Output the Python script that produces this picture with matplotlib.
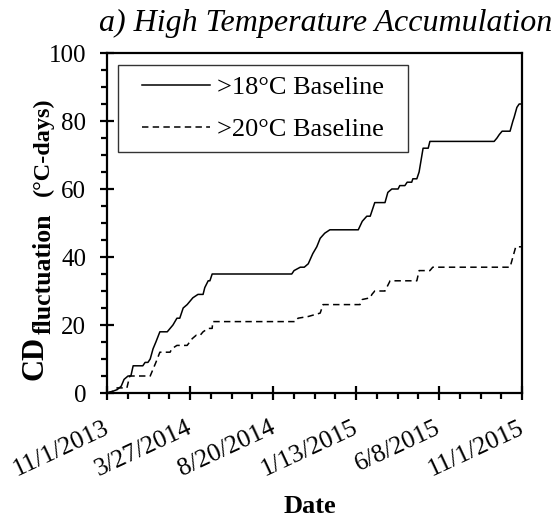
import pandas as pd
import matplotlib
matplotlib.use("Agg")
import matplotlib.pyplot as plt
import matplotlib.dates as mdates
from matplotlib.ticker import MultipleLocator, FixedLocator
from matplotlib.lines import Line2D
from matplotlib.legend_handler import HandlerLine2D
from matplotlib.transforms import ScaledTranslation

plt.rcParams["font.family"] = "Liberation Serif"

# Cumulative degree-days, days counted from 11/1/2013
start = pd.Timestamp("2013-11-01")

days_18 = [0, 10, 18, 25, 30, 37, 42, 46, 63, 67, 72, 76, 81, 86, 93, 106, 111, 116,
           123, 128, 134, 141, 146, 151, 160, 169, 172, 178, 181, 185, 325, 329, 340,
           347, 354, 362, 369, 375, 383, 392, 442, 449, 457, 463, 466, 471, 489, 494,
           501, 512, 515, 524, 528, 536, 538, 545, 549, 554, 556, 565, 568, 681, 686,
           690, 695, 709, 714, 716, 721, 725, 730]
cd_18 = [0, 0.5, 1, 2, 4, 5, 5, 8, 8, 9, 9, 10, 13, 15, 18, 18, 19, 20,
         22, 22, 25, 26, 27, 28, 29, 29, 31, 33, 33, 35, 35, 36, 37,
         37, 38, 41, 43, 45.5, 47, 48, 48, 50.5, 52, 52, 53.5, 56, 56, 59,
         60, 60, 61, 61, 62, 62, 63, 63, 65, 70, 72, 72, 74, 74, 75,
         76, 77, 77, 80, 81, 84, 85, 85]

days_20 = [0, 10, 18, 35, 40, 76, 81, 86, 93, 111, 114, 123, 141, 150, 157, 164, 169,
           178, 185, 186, 332, 336, 354, 375, 380, 445, 449, 463, 466, 471, 489, 498,
           545, 549, 568, 573, 709, 714, 719, 730]
cd_20 = [0, 0.5, 1.5, 1.5, 5, 5, 7, 9, 12, 12, 13, 14, 14, 16, 17, 17, 18,
         19, 19, 21, 21, 22, 22.5, 23.5, 26, 26, 27.5, 28, 29, 30, 30, 33,
         33, 36, 36, 37, 37, 40, 43, 43]

tick_days = [0, 146, 292, 438, 584, 730]
tick_labels = ["11/1/2013", "3/27/2014", "8/20/2014", "1/13/2015", "6/8/2015", "11/1/2015"]

dates_18 = start + pd.to_timedelta(days_18, unit="D")
dates_20 = start + pd.to_timedelta(days_20, unit="D")
tick_dates = start + pd.to_timedelta(tick_days, unit="D")

W, H = 558, 520
fig = plt.figure(figsize=(W / 100, H / 100), dpi=100)
ax = fig.add_axes([107 / W, 1 - 393 / H, 415 / W, 340 / H])

ax.plot(dates_18, cd_18, color="black", lw=1.1, label=">18°C Baseline  ")
ax.plot(dates_20, cd_20, color="black", lw=1.1, ls=(0, (4.2, 2.8)), label=">20°C Baseline  ")

ax.set_xlim(tick_dates[0], tick_dates[-1])
ax.set_ylim(0, 100)

# major ticks every 146 days, 3 minor ticks between each pair
tick_nums = mdates.date2num(tick_dates)
ax.xaxis.set_major_locator(FixedLocator(tick_nums))
minor = []
for a, b in zip(tick_nums[:-1], tick_nums[1:]):
    step = (b - a) / 4
    minor += [a + step * k for k in (1, 2, 3)]
ax.xaxis.set_minor_locator(FixedLocator(minor))
ax.set_xticklabels(tick_labels, rotation=25, ha="right", rotation_mode="anchor")

ax.yaxis.set_major_locator(MultipleLocator(20))
ax.yaxis.set_minor_locator(MultipleLocator(5))

for s in ax.spines.values():
    s.set_linewidth(1.6)
ax.tick_params(which="major", direction="inout", length=10, width=1.6, labelsize=18)
ax.tick_params(which="minor", direction="out", length=4.5, width=1.6)
ax.tick_params(axis="y", which="major", pad=10)
ax.tick_params(axis="x", which="major", pad=12, labelsize=18.5)
shift = ScaledTranslation(-0.04, 0, fig.dpi_scale_trans)
for lab in ax.get_xticklabels():
    lab.set_transform(lab.get_transform() + shift)

# axis titles
fig.text(310 / W, 1 - 513 / H, "Date", fontsize=19, fontweight="bold",
         ha="center", va="baseline")
fig.text(42 / W, 1 - 380 / H, "CD", fontsize=22, fontweight="bold", rotation=90,
         rotation_mode="anchor", ha="left", va="baseline")
fig.text(51 / W, 1 - 334 / H, "fluctuation", fontsize=18.5, fontweight="bold", rotation=90,
         rotation_mode="anchor", ha="left", va="baseline")
fig.text(49 / W, 1 - 97 / H, "(°C-days)", fontsize=17.5, fontweight="bold", rotation=90,
         rotation_mode="anchor", ha="right", va="baseline")

ax.set_title("a) High Temperature Accumulation", fontsize=23, style="italic",
             x=0.528, pad=16)

leg = ax.legend(loc="upper left", fontsize=19, frameon=True, fancybox=False,
                edgecolor="black", handlelength=3.1, handletextpad=0.25,
                borderpad=0.4, labelspacing=0.72,
                bbox_to_anchor=(11 / 415, (393 - 65) / 340), borderaxespad=0,
                handler_map={Line2D: HandlerLine2D(xpad=0.5)})
leg.get_frame().set_linewidth(1.0)

fig.savefig("out.png", dpi=100)
